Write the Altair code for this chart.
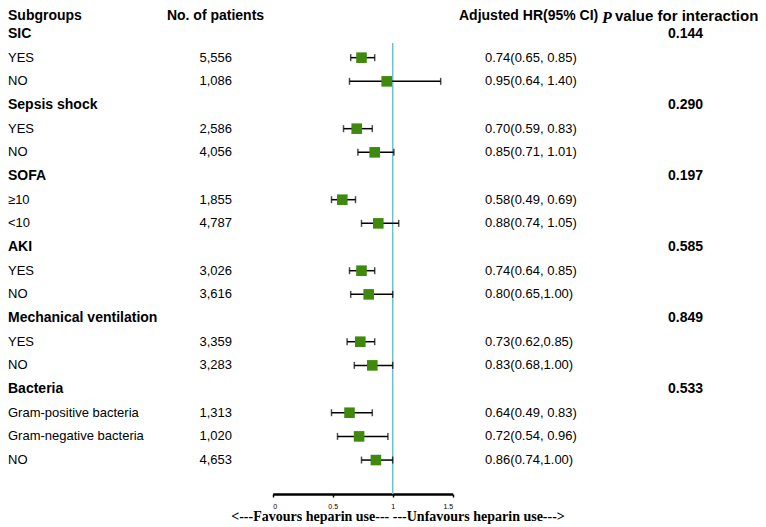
import altair as alt
import pandas as pd

# ---- data ----
groups = ["SIC", "Sepsis shock", "SOFA", "AKI", "Mechanical ventilation", "Bacteria"]
p_values = ["0.144", "0.290", "0.197", "0.585", "0.849", "0.533"]
sub_labels = [
    ["\u00a0YES", "\u00a0NO"],
    ["\u00a0YES", "\u00a0NO"],
    ["\u226510", "<10"],
    ["\u00a0YES", "\u00a0NO"],
    ["\u00a0YES", "\u00a0NO"],
    ["Gram-positive bacteria", "Gram-negative bacteria", "NO"],
]
n_patients = [
    ["5,556", "1,086"],
    ["2,586", "4,056"],
    ["1,855", "4,787"],
    ["3,026", "3,616"],
    ["3,359", "3,283"],
    ["1,313", "1,020", "4,653"],
]
hr_est = [[0.74, 0.95], [0.70, 0.85], [0.58, 0.88], [0.74, 0.80], [0.73, 0.83], [0.64, 0.72, 0.86]]
hr_low = [[0.65, 0.64], [0.59, 0.71], [0.49, 0.74], [0.64, 0.65], [0.62, 0.68], [0.49, 0.54, 0.74]]
hr_high = [[0.85, 1.40], [0.83, 1.01], [0.69, 1.05], [0.85, 1.00], [0.85, 1.00], [0.83, 0.96, 1.00]]
hr_text = [
    ["0.74(0.65, 0.85)", "0.95(0.64, 1.40)"],
    ["0.70(0.59, 0.83)", "0.85(0.71, 1.01)"],
    ["0.58(0.49, 0.69)", "0.88(0.74, 1.05)"],
    ["0.74(0.64, 0.85)", "0.80(0.65,1.00)"],
    ["0.73(0.62,0.85)", "0.83(0.68,1.00)"],
    ["0.64(0.49, 0.83)", "0.72(0.54, 0.96)", "0.86(0.74,1.00)"],
]
axis_ticks = [0, 0.5, 1, 1.5]
ref_value = 1
bottom_text = "<---Favours heparin use--- ---Unfavours heparin use--->"

# ---- table ----
rows = []
i = 0
for g, grp in enumerate(groups):
    rows.append(dict(row=i, label=grp, kind="group", p=p_values[g]))
    i += 1
    for k, lab in enumerate(sub_labels[g]):
        rows.append(dict(row=i, label=lab, kind="sub", n=n_patients[g][k],
                         hr=hr_est[g][k], lo=hr_low[g][k], hi=hr_high[g][k],
                         txt=hr_text[g][k]))
        i += 1
df = pd.DataFrame(rows)

SANS = "Liberation Sans"
SERIF = "Liberation Serif"
GREEN = "#3f8a0c"
TEAL = "#6cc0cc"
TOP_ROW = -0.845
HEAD_ROW = -0.75
AXIS_ROW = 19.434

yscale = alt.Scale(domain=[TOP_ROW, AXIS_ROW], reverse=True, nice=False, zero=False)
xscale = alt.Scale(domain=[0, 1.5], range=[264.7, 444.7], nice=False, zero=False)

xaxis = alt.Axis(values=axis_ticks, labelExpr="datum.value + ''", labelFontSize=7,
                 labelFont=SANS, labelColor="black", tickColor="black", domainColor="black",
                 domainWidth=2.5, tickWidth=1.5, tickSize=3, labelPadding=5, grid=False,
                 title=None)

base = alt.Chart(df)
Y = alt.Y("row:Q", scale=yscale, axis=None)
group_rows = base.transform_filter(alt.datum.kind == "group")
sub_rows = base.transform_filter(alt.datum.kind == "sub")

ref_df = pd.DataFrame({"v": [ref_value], "y0": [0.38], "y1": [AXIS_ROW]})
vline = alt.Chart(ref_df).mark_rule(color=TEAL, strokeWidth=1.5).encode(
    x=alt.X("v:Q", scale=xscale, axis=xaxis),
    y=alt.Y("y0:Q", scale=yscale, axis=None),
    y2="y1:Q",
)

ci = sub_rows.mark_rule(color="black", strokeWidth=1.5).encode(
    x=alt.X("lo:Q"), x2="hi:Q", y=Y)
cap_lo = sub_rows.mark_tick(size=7, thickness=1.5, color="black").encode(
    x=alt.X("lo:Q"), y=Y)
cap_hi = sub_rows.mark_tick(size=7, thickness=1.5, color="black").encode(
    x=alt.X("hi:Q"), y=Y)
squares = sub_rows.mark_square(size=112, color=GREEN, opacity=1, filled=True).encode(
    x=alt.X("hr:Q"), y=Y)

grp_label = group_rows.mark_text(align="left", baseline="middle", font=SANS, fontSize=14,
                                 fontWeight="bold", color="black").encode(
    x=alt.value(0), y=Y, text="label:N")
grp_p = group_rows.mark_text(align="center", baseline="middle", font=SANS, fontSize=14,
                             fontWeight="bold", color="black").encode(
    x=alt.value(677.5), y=Y, text="p:N")
sub_label = sub_rows.mark_text(align="left", baseline="middle", font=SANS, fontSize=13,
                               color="black").encode(
    x=alt.value(0), y=Y, text="label:N")
sub_n = sub_rows.mark_text(align="right", baseline="middle", font=SANS, fontSize=13,
                           color="black").encode(
    x=alt.value(224), y=Y, text="n:N")
sub_txt = sub_rows.mark_text(align="left", baseline="middle", font=SANS, fontSize=13,
                             color="black").encode(
    x=alt.value(477), y=Y, text="txt:N")

head_df = pd.DataFrame({"row": [HEAD_ROW]})


def header(text, x, align, font=SANS, size=14, style="normal", dy=0):
    return alt.Chart(head_df).mark_text(
        align=align, baseline="middle", font=font, fontSize=size, fontWeight="bold",
        fontStyle=style, color="black", text=text, dy=dy).encode(
        x=alt.value(x), y=Y)


h1 = header("Subgroups", 0, "left")
h2 = header("No. of patients", 207.5, "center")
h3 = header("Adjusted HR(95% CI)", 451, "left")
h4 = header("P", 594, "left", font=SERIF, size=16, style="italic", dy=1.5)
h5 = header("value for interaction", 607, "left", size=15)

bottom = alt.Chart(head_df).mark_text(
    align="center", baseline="middle", font=SERIF, fontSize=14, fontWeight="bold",
    color="black", text=bottom_text).encode(
    x=alt.value(390), y=alt.value(503))

chart = alt.layer(
    vline, ci, cap_lo, cap_hi, squares,
    grp_label, grp_p, sub_label, sub_n, sub_txt,
    h1, h2, h3, h4, h5, bottom,
).properties(
    width=750, height=480,
    autosize=alt.AutoSizeParams(type="none"),
    padding={"left": 0, "top": 6, "right": 0, "bottom": 32},
).configure_view(stroke=None)

chart.save("out.html", embed_options={"renderer": "svg", "actions": False})
